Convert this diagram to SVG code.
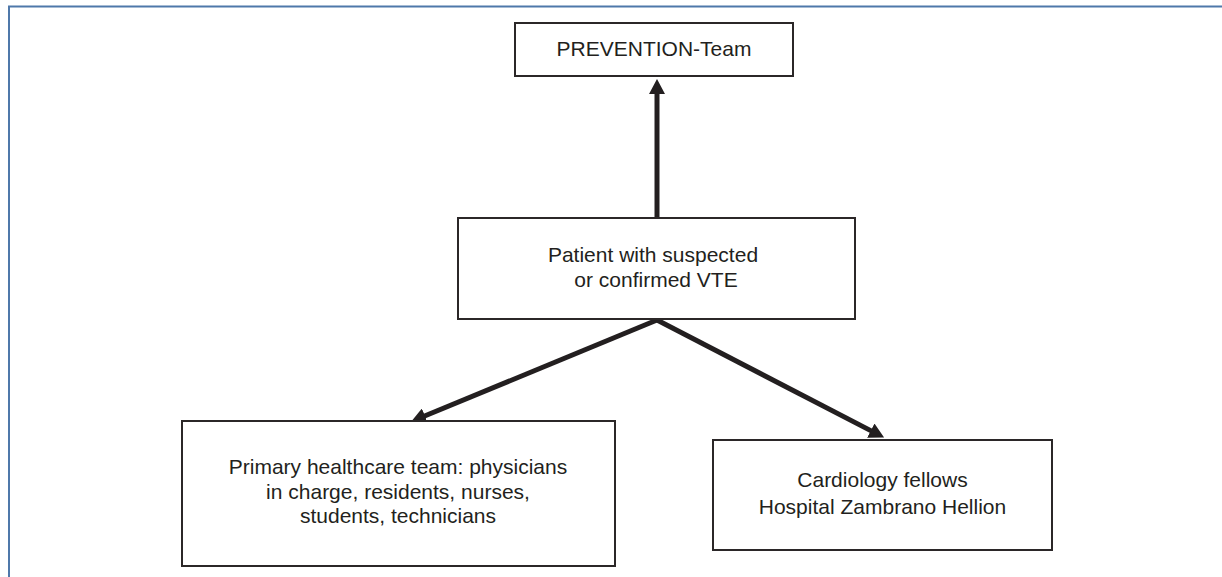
<svg xmlns="http://www.w3.org/2000/svg" width="1222" height="577" viewBox="0 0 1222 577">
<style>
.box{fill:#fff;stroke:#2b2728;stroke-width:2}
.t{font-family:"Liberation Sans",Arial,sans-serif;font-size:21px;fill:#231f20;text-anchor:middle}
.c{fill:none;stroke:#231f20;stroke-width:5}
</style>
<defs>
<marker id="ah" viewBox="0 0 15 16" markerWidth="15" markerHeight="16" markerUnits="userSpaceOnUse" refX="1" refY="8" orient="auto">
<path d="M0,0 L15,8 L0,16 z" fill="#231f20"/>
</marker>
</defs>
<rect width="1222" height="577" fill="#fff"/>
<path d="M9,577 V6.5 H1222" fill="none" stroke="#4f78aa" stroke-width="2"/>
<g id="connectors">
<path class="c" d="M657,219 V93" marker-end="url(#ah)"/>
<path class="c" d="M657,320 L424,416.3" marker-end="url(#ah)"/>
<path class="c" d="M657,320 L871.7,431.1" marker-end="url(#ah)"/>
</g>
<g id="prevention">
<rect class="box" x="515" y="23" width="278" height="53"/>
<text class="t" x="654" y="56">PREVENTION-Team</text>
</g>
<g id="patient">
<rect class="box" x="458" y="218" width="397" height="101"/>
<text class="t" x="653" y="262">Patient with suspected</text>
<text class="t" x="656" y="287">or confirmed VTE</text>
</g>
<g id="primary">
<rect class="box" x="182" y="421" width="433" height="145"/>
<text class="t" x="398" y="474">Primary healthcare team: physicians</text>
<text class="t" x="398" y="498.5">in charge, residents, nurses,</text>
<text class="t" x="398" y="523">students, technicians</text>
</g>
<g id="cardiology">
<rect class="box" x="713" y="440" width="339" height="110"/>
<text class="t" x="882.5" y="487">Cardiology fellows</text>
<text class="t" x="882.5" y="514">Hospital Zambrano Hellion</text>
</g>
</svg>
